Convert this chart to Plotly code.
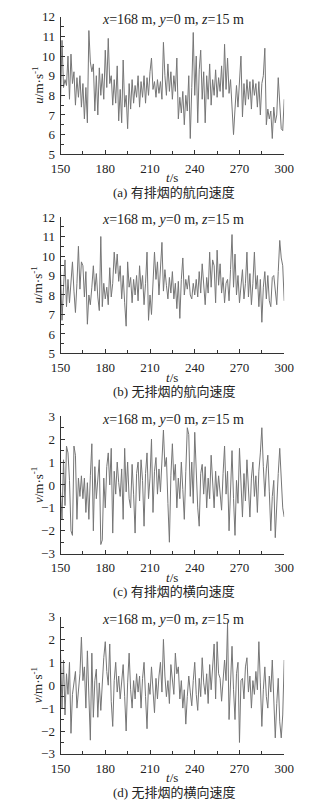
import plotly.graph_objects as go

# ---------------- data (t = 150 ... 300 s, 1 s step) ----------------
t = list(range(150, 301))

u_smoke = [7.6, 10.8, 8.4, 8.8, 8.5, 10.0, 7.8, 10.1, 8.6, 9.2,
           7.5, 8.9, 7.9, 9.0, 7.4, 8.6, 6.8, 8.4, 6.6, 11.3,
           9.7, 9.2, 9.6, 7.2, 9.0, 7.0, 9.4, 8.0, 9.1, 7.8,
           10.3, 8.4, 10.9, 8.6, 9.0, 7.5, 8.8, 7.6, 9.5, 6.7,
           8.3, 6.6, 9.8, 7.4, 8.0, 6.3, 8.6, 7.3, 8.8, 7.6,
           8.5, 7.9, 9.0, 7.4, 8.7, 7.9, 9.0, 7.6, 8.9, 8.0,
           9.2, 9.9, 8.3, 8.7, 7.9, 8.8, 8.1, 8.7, 7.8, 10.7,
           9.0, 8.0, 9.6, 8.2, 9.2, 7.8, 9.0, 8.2, 9.9, 6.8,
           7.9, 7.1, 8.2, 6.5, 8.0, 7.2, 9.0, 5.8, 8.4, 11.2,
           8.0, 10.0, 6.6, 9.3, 10.3, 7.8, 9.2, 6.6, 9.0, 7.8,
           9.6, 7.5, 8.8, 8.0, 9.3, 7.9, 8.9, 8.2, 9.5, 7.9,
           10.6, 8.3, 9.9, 8.1, 8.8, 7.6, 6.0, 7.3, 8.5, 7.4,
           9.0, 10.0, 6.9, 8.6, 7.5, 8.8, 7.8, 8.7, 7.3, 8.8,
           8.0, 8.6, 7.4, 8.7, 7.0, 8.6, 9.0, 10.4, 6.5, 7.3,
           6.8, 7.2, 5.8, 7.4, 6.6, 7.0, 8.9, 7.6, 6.3, 6.2,
           7.8]

u_nosmoke = [9.2, 6.7, 8.4, 9.8, 7.4, 8.8, 7.6, 9.0, 9.7, 8.2,
             7.1, 8.6, 10.5, 8.3, 9.7, 9.5, 7.9, 9.2, 6.5, 8.0,
             7.5, 8.4, 9.5, 8.2, 9.1, 7.9, 7.2, 11.0, 7.4, 8.6,
             7.8, 8.4, 7.5, 9.4, 7.9, 8.6, 10.2, 9.1, 10.1, 8.7,
             9.5, 7.8, 9.0, 7.6, 6.4, 9.7, 8.4, 8.9, 7.6, 8.8,
             8.0, 9.0, 7.7, 9.5, 8.3, 9.0, 7.5, 8.6, 10.2, 6.7,
             8.0, 7.0, 8.4, 10.2, 8.8, 9.7, 8.0, 9.4, 10.7, 8.2,
             9.3, 8.5, 7.8, 8.9, 8.1, 9.2, 7.8, 8.6, 7.3, 8.7,
             6.8, 8.8, 9.9, 8.0, 8.8, 8.3, 9.0, 8.0, 7.8, 8.6,
             8.0, 8.8, 7.9, 9.2, 8.1, 9.6, 8.3, 7.5, 8.9, 8.1,
             10.2, 8.4, 9.8, 9.5, 7.6, 10.3, 8.5, 9.6, 8.1, 8.9,
             7.6, 8.6, 8.8, 7.7, 9.3, 11.1, 8.4, 10.1, 8.0, 9.0,
             7.6, 8.4, 9.3, 7.8, 8.6, 10.2, 7.9, 9.1, 7.5, 8.6,
             10.2, 8.3, 9.0, 7.4, 8.8, 6.6, 8.4, 9.2, 7.8, 9.0,
             7.7, 7.4, 8.9, 9.0, 8.3, 7.5, 9.2, 10.8, 9.9, 9.5,
             7.7]

v_smoke = [-0.3, -1.5, 1.1, -0.9, 1.7, 1.4, 0.2, -2.0, -2.2, 1.7,
           1.3, -1.5, 0.3, -0.5, 0.4, -0.6, 0.3, -1.2, 0.1, -1.5,
           0.4, 1.8, -2.0, 0.8, -0.6, 0.1, 1.1, -2.6, -2.4, 0.3,
           -1.0, 0.8, 1.4, 0.0, 1.6, -2.1, 0.6, -0.4, 1.0, 0.1,
           -0.5, 0.7, -1.5, 1.6, -0.3, 1.0, -0.6, -1.0, 0.9, -0.4,
           -2.1, 0.5, 1.0, -0.7, 1.1, 0.2, -1.8, 0.5, 1.4, -0.6,
           0.3, 2.0, -1.2, 0.6, 1.2, -0.4, 0.7, -0.3, 1.1, 2.4,
           0.8, 1.2, -0.8, -2.5, 0.4, 1.8, 0.2, 0.9, -1.0, 0.3,
           -0.6, 1.0, -0.2, -1.5, 0.6, 2.5, 2.2, -0.5, 1.0, -0.8,
           2.3, 0.2, -1.0, -1.8, 0.5, 0.9, -0.4, 0.8, -1.0, 0.3,
           -0.6, 1.3, -0.2, -1.0, 0.6, -0.5, 0.4, -0.3, -1.1, 0.5,
           1.7, -0.4, 0.6, -2.0, -0.3, 1.5, -0.6, -2.2, 0.2, -0.8,
           1.6, -0.2, -1.4, 0.5, -0.7, 1.1, 0.0, -1.4, 0.3, 1.0,
           -0.5, 0.4, -1.2, 0.6, 1.4, 2.5, 0.8, -0.5, 0.7, 1.3,
           -0.3, -2.0, -0.5, 0.2, -2.3, -0.6, 0.5, 1.6, 0.1, -1.0,
           -1.4]

v_nosmoke = [1.4, -1.0, 1.1, -1.3, 0.5, -0.4, 1.0, -2.1, -0.4, 0.2,
             0.6, -1.0, -0.2, 0.5, 2.1, 0.2, 0.8, -1.0, 1.5, -0.3,
             -2.4, 1.4, -1.4, 0.2, 0.7, -1.4, 0.1, -1.1, 0.4, 1.2,
             1.9, 0.6, 0.0, 1.8, -0.7, -1.8, 0.2, 1.0, -0.3, 0.4,
             -0.6, 0.3, 0.9, -0.5, -2.0, 0.1, 1.4, -0.2, -1.0, 0.2,
             -0.6, 0.5, -0.3, 0.4, -1.0, 0.3, 1.0, -0.5, -1.9, 0.1,
             -0.4, 0.8, -0.2, -1.2, 0.3, -0.6, 0.4, 1.0, -0.3, 2.0,
             0.4, -0.5, 0.2, -0.8, 0.9, 0.1, -0.4, 1.4, 0.5, 0.8,
             -0.6, 0.2, -1.0, -0.2, -1.7, -0.5, 0.4, -0.3, -0.9, 0.2,
             1.0, -0.4, -1.1, 0.3, -0.5, 1.2, 0.1, -0.4, 0.5, -0.8,
             0.9, -0.2, 0.6, 1.8, -0.6, 1.9, 0.5, 0.3, -0.7, 0.4,
             1.1, 0.2, 2.7, -1.5, 0.3, 1.7, -0.2, -1.5, 0.5, 1.0,
             -2.5, 0.2, 0.3, -0.6, 0.8, 1.2, -0.3, 0.4, -1.0, 0.2,
             -0.4, 0.6, -0.2, 1.9, 0.1, -1.8, -0.2, 0.8, -0.5, -1.0,
             0.4, -0.3, 1.1, -0.6, -2.3, -0.8, 0.3, -1.6, -2.3, -1.3,
             1.1]

series = [u_smoke, u_nosmoke, v_smoke, v_nosmoke]
y_ranges = [(5, 12), (5, 12), (-3, 3), (-3, 3)]
y_titles = ["<i>u</i>/m·s<sup>-1</sup>", "<i>u</i>/m·s<sup>-1</sup>",
            "<i>v</i>/m·s<sup>-1</sup>", "<i>v</i>/m·s<sup>-1</sup>"]
x_title = "<i>t</i>/s"
captions = ["(a) 有排烟的航向速度", "(b) 无排烟的航向速度",
            "(c) 有排烟的横向速度", "(d) 无排烟的横向速度"]
point_label = "<i>x</i>=168 m, <i>y</i>=0 m, <i>z</i>=15 m"
x_ticks = [150, 180, 210, 240, 270, 300]

# ---------------- layout geometry (pixels) ----------------
W, H = 312, 810
X0, X1 = 54, 293
panels_px = [(10, 150), (214, 353), (417, 557), (621, 761)]  # (top, bottom)
SERIF = "Liberation Serif, Times New Roman, serif"
CJK = "Liberation Serif, Noto Sans CJK SC, serif"
TXT = "#222"


def py(ypx):
    return 1 - ypx / H


def px(xpx):
    return xpx / W


fig = go.Figure()
annotations = []
layout = dict(
    width=W, height=H,
    margin=dict(l=0, r=0, t=0, b=0),
    paper_bgcolor="white", plot_bgcolor="white",
    showlegend=False,
    font=dict(family=SERIF, size=13, color=TXT),
)

for i, (vals, yr, yt, cap) in enumerate(zip(series, y_ranges, y_titles, captions)):
    n = "" if i == 0 else str(i + 1)
    top, bot = panels_px[i]
    fig.add_trace(go.Scatter(
        x=t, y=vals, mode="lines",
        line=dict(color="#767676", width=1),
        xaxis="x" + n, yaxis="y" + n, hoverinfo="skip",
    ))
    axis_common = dict(
        showline=True, linecolor="#333", linewidth=1, mirror=False,
        showgrid=False, zeroline=False,
        ticks="inside", ticklen=4, tickwidth=1, tickcolor="#333",
        tickfont=dict(family=SERIF, size=13, color=TXT),
    )
    layout["xaxis" + n] = dict(
        axis_common,
        domain=[px(X0), px(X1)], range=[150, 300],
        tickvals=x_ticks, ticklabelstandoff=2,
        minor=dict(ticks="inside", dtick=15, ticklen=3, tickcolor="#333", showgrid=False),
        anchor="y" + n,
    )
    layout["yaxis" + n] = dict(
        axis_common,
        domain=[py(bot), py(top)], range=list(yr), dtick=1,
        minor=dict(ticks="inside", dtick=0.5, ticklen=3, tickcolor="#333", showgrid=False),
        anchor="x" + n, ticklabelstandoff=2,
    )
    # point label inside the plot
    annotations.append(dict(
        text=point_label, x=px(174), y=py(top + 3), xref="paper", yref="paper",
        xanchor="center", yanchor="middle", showarrow=False,
        font=dict(family=SERIF, size=14, color=TXT),
    ))
    # y title
    annotations.append(dict(
        text=yt, x=px(29), y=py((top + bot) / 2), xref="paper", yref="paper",
        xanchor="center", yanchor="middle", textangle=-90, showarrow=False,
        font=dict(family=SERIF, size=13, color=TXT),
    ))
    # x title
    annotations.append(dict(
        text=x_title, x=px(173), y=py(bot + 24), xref="paper", yref="paper",
        xanchor="center", yanchor="middle", showarrow=False,
        font=dict(family=SERIF, size=13, color=TXT),
    ))
    # caption
    annotations.append(dict(
        text=cap, x=px(175), y=py(bot + 39), xref="paper", yref="paper",
        xanchor="center", yanchor="middle", showarrow=False,
        font=dict(family=CJK, size=13, color=TXT),
    ))

layout["annotations"] = annotations
fig.update_layout(**layout)
fig.write_html("out.html")
